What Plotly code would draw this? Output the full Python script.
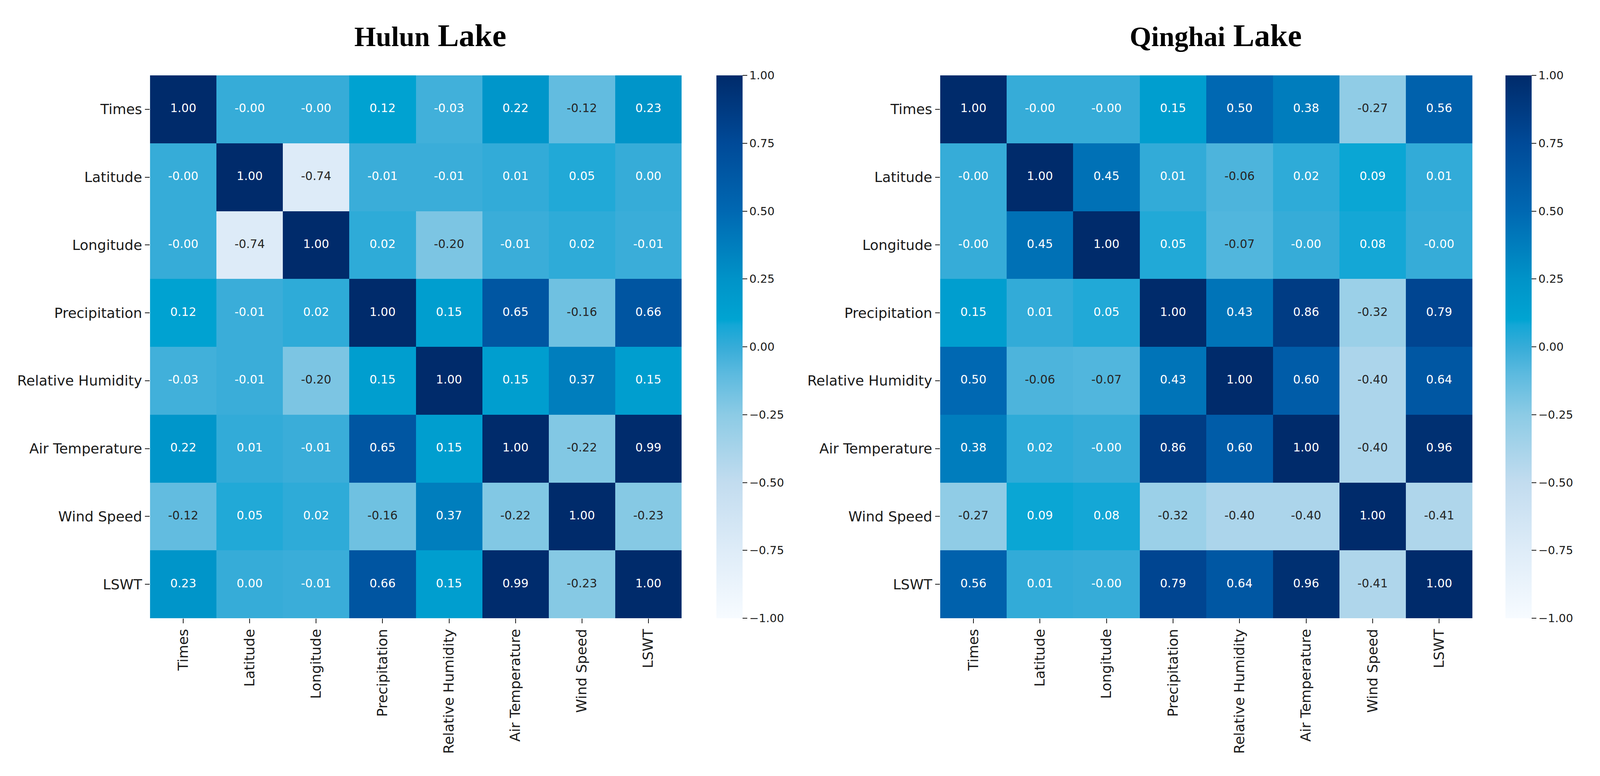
import plotly.graph_objects as go

variables = ["Times", "Latitude", "Longitude", "Precipitation", "Relative Humidity",
             "Air Temperature", "Wind Speed", "LSWT"]

hulun_corr = [
    [1.00, -0.00, -0.00, 0.12, -0.03, 0.22, -0.12, 0.23],
    [-0.00, 1.00, -0.74, -0.01, -0.01, 0.01, 0.05, 0.00],
    [-0.00, -0.74, 1.00, 0.02, -0.20, -0.01, 0.02, -0.01],
    [0.12, -0.01, 0.02, 1.00, 0.15, 0.65, -0.16, 0.66],
    [-0.03, -0.01, -0.20, 0.15, 1.00, 0.15, 0.37, 0.15],
    [0.22, 0.01, -0.01, 0.65, 0.15, 1.00, -0.22, 0.99],
    [-0.12, 0.05, 0.02, -0.16, 0.37, -0.22, 1.00, -0.23],
    [0.23, 0.00, -0.01, 0.66, 0.15, 0.99, -0.23, 1.00],
]

qinghai_corr = [
    [1.00, -0.00, -0.00, 0.15, 0.50, 0.38, -0.27, 0.56],
    [-0.00, 1.00, 0.45, 0.01, -0.06, 0.02, 0.09, 0.01],
    [-0.00, 0.45, 1.00, 0.05, -0.07, -0.00, 0.08, -0.00],
    [0.15, 0.01, 0.05, 1.00, 0.43, 0.86, -0.32, 0.79],
    [0.50, -0.06, -0.07, 0.43, 1.00, 0.60, -0.40, 0.64],
    [0.38, 0.02, -0.00, 0.86, 0.60, 1.00, -0.40, 0.96],
    [-0.27, 0.09, 0.08, -0.32, -0.40, -0.40, 1.00, -0.41],
    [0.56, 0.01, -0.00, 0.79, 0.64, 0.96, -0.41, 1.00],
]

colorbar_ticks = [-1.0, -0.75, -0.5, -0.25, 0.0, 0.25, 0.5, 0.75, 1.0]

colorscale = [
    [0.0, "#f7fbff"],
    [0.125, "#deecf8"],
    [0.25, "#c2dcef"],
    [0.375, "#8ccbe5"],
    [0.45, "#5cbadf"],
    [0.5, "#36acd8"],
    [0.54, "#14a7d6"],
    [0.55, "#00a4d2"],
    [0.625, "#0093c8"],
    [0.75, "#0068b2"],
    [0.875, "#004a98"],
    [1.0, "#002b6b"],
]

# reference geometry (pixels in the 4202 x 1987 reference), used as fractions
W, H = 4202.0, 1987.0
S = 0.975  # CSS px per reference px (viewport is slightly smaller in CSS px)
TICK_COLOR = "#1a1a1a"
DARK_TEXT = "#262626"

panels = [
    dict(z=hulun_corr, ax="", x0=394, x1=1790, cbx=1881, tx=1130,
         name1="Hulun", name2="Lake"),
    dict(z=qinghai_corr, ax="2", x0=2469, x1=3867, cbx=3954, tx=3193,
         name1="Qinghai", name2="Lake"),
]
top_px, bot_px = 193, 1583

tick_font = dict(family="DejaVu Sans", size=round(37 * S), color=TICK_COLOR)

fig = go.Figure()
layout_axes = {}
for p in panels:
    xa = "x" + p["ax"]
    ya = "y" + p["ax"]
    fig.add_trace(go.Heatmap(
        z=p["z"], x=variables, y=variables, xaxis=xa, yaxis=ya,
        zmin=-1, zmax=1, colorscale=colorscale,
        hoverinfo="skip",
        colorbar=dict(
            x=p["cbx"] / W, xanchor="left", xpad=0, ypad=0,
            y=1 - (top_px + bot_px) / 2 / H, yanchor="middle",
            len=(bot_px - top_px) / H, lenmode="fraction",
            thickness=round(69 * S), thicknessmode="pixels",
            tickvals=colorbar_ticks, tickformat=".2f",
            ticks="outside", ticklen=round(12 * S), tickwidth=2, tickcolor=TICK_COLOR,
            tickfont=dict(family="DejaVu Sans", size=round(30 * S), color=TICK_COLOR),
            outlinewidth=0,
        ),
    ))
    xs, ys, texts, colors = [], [], [], []
    for i, row in enumerate(p["z"]):
        for j, v in enumerate(row):
            xs.append(variables[j])
            ys.append(variables[i])
            texts.append(f"{v:.2f}")
            colors.append(DARK_TEXT if v < -0.05 else "white")
    fig.add_trace(go.Scatter(
        x=xs, y=ys, xaxis=xa, yaxis=ya, mode="text", text=texts,
        textfont=dict(family="DejaVu Sans", size=round(31 * S), color=colors),
        hoverinfo="skip", showlegend=False,
    ))
    xkey = "xaxis" + p["ax"]
    ykey = "yaxis" + p["ax"]
    layout_axes[xkey] = dict(
        domain=[p["x0"] / W, p["x1"] / W], anchor=ya, type="category",
        tickangle=-90, ticks="outside", ticklen=round(12 * S), tickwidth=2,
        tickcolor=TICK_COLOR, tickfont=tick_font,
        showgrid=False, zeroline=False, showline=False, fixedrange=True,
    )
    layout_axes[ykey] = dict(
        domain=[1 - bot_px / H, 1 - top_px / H], anchor=xa, type="category",
        autorange="reversed", ticks="outside", ticklen=round(12 * S), tickwidth=2,
        tickcolor=TICK_COLOR, tickfont=tick_font,
        showgrid=False, zeroline=False, showline=False, fixedrange=True,
    )
    title = ("<b><span style='font-size:%dpx'>%s</span> "
             "<span style='font-size:%dpx'>%s</span></b>"
             % (round(73 * S), p["name1"], round(83 * S), p["name2"]))
    fig.add_annotation(
        text=title, xref="paper", yref="paper", x=p["tx"] / W, y=1 - 91 / H,
        xanchor="center", yanchor="middle", showarrow=False,
        font=dict(family="Liberation Serif", size=round(83 * S), color="black"),
    )

fig.update_layout(
    autosize=True,
    margin=dict(l=0, r=0, t=0, b=0, pad=0),
    paper_bgcolor="white", plot_bgcolor="white",
    showlegend=False,
    **layout_axes,
)

post = """
document.documentElement.style.margin='0';
document.documentElement.style.overflow='hidden';
document.body.style.margin='0';
document.body.style.overflow='hidden';
var gd = document.getElementById('{plot_id}');
gd.style.position='fixed'; gd.style.left='0px'; gd.style.top='0px';
gd.style.width='100vw'; gd.style.height='100vh';
Plotly.Plots.resize(gd);
"""

fig.write_html("out.html", default_width="100vw", default_height="100vh",
               config={"responsive": True, "displayModeBar": False},
               post_script=post)
